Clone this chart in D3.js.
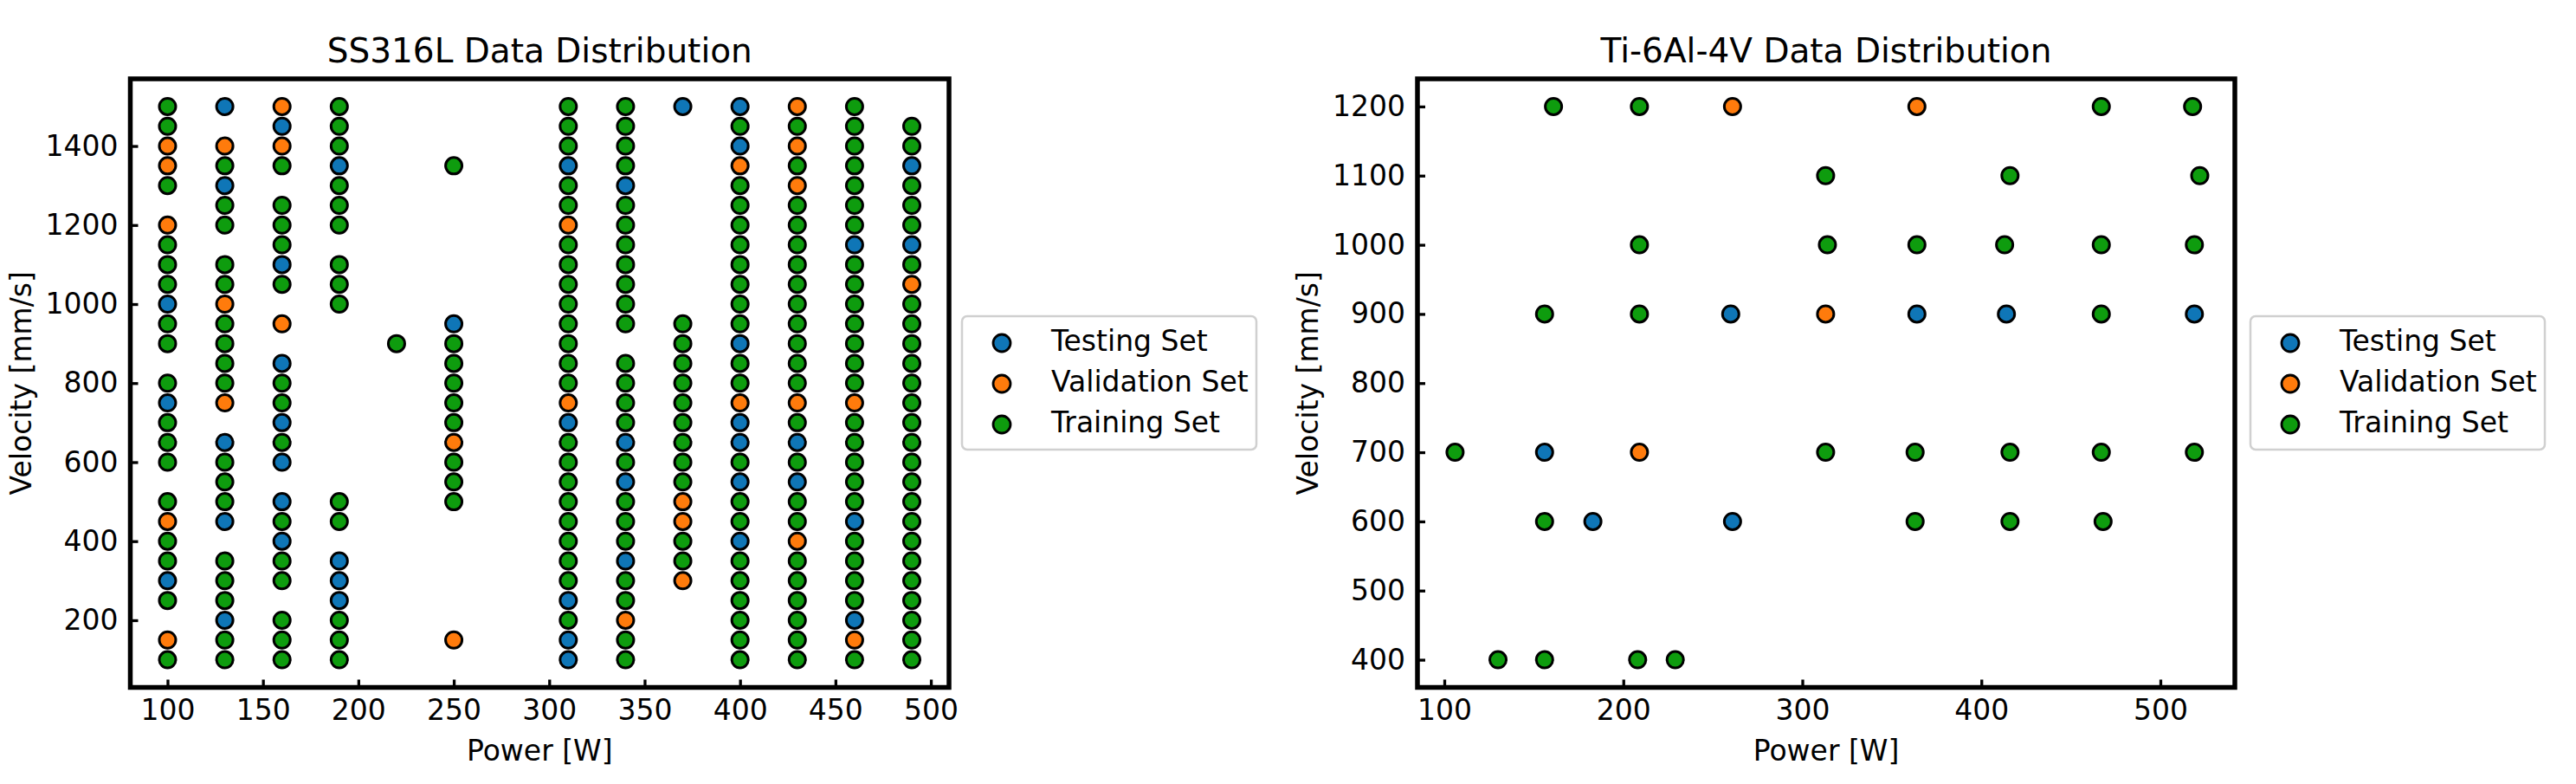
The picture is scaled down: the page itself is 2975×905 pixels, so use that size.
<!DOCTYPE html>
<html>
<head>
<meta charset="utf-8">
<script src="https://cdn.jsdelivr.net/npm/d3@7"></script>
<style>
  body { margin: 0; background: #fff; }
  text { font-family: "DejaVu Sans", sans-serif; }
</style>
</head>
<body>
<div id="chart"></div>
<script>
// set names and colours, in legend order
var setNames = ["Testing Set", "Validation Set", "Training Set"];
var setColors = ["#0f76b7", "#ff7b0c", "#0e9c0e"];

// SS316L: [power, [velocities]] per set
var ssTesting = [
  [100, [1000, 750, 300]],
  [130, [1500, 1300, 650, 450, 200]],
  [160, [1450, 1100, 850, 700, 600, 500, 400]],
  [190, [1350, 350, 300, 250]],
  [250, [950]],
  [310, [1350, 700, 250, 150, 100]],
  [340, [1300, 650, 550, 350]],
  [370, [1500]],
  [400, [1500, 1400, 900, 700, 650, 550, 400]],
  [430, [650, 550]],
  [460, [1150, 450, 200]],
  [490, [1350, 1150]]
];
var ssValidation = [
  [100, [1400, 1350, 1200, 450, 150]],
  [130, [1400, 1000, 750]],
  [160, [1500, 1400, 950]],
  [250, [650, 150]],
  [310, [1200, 750]],
  [340, [200]],
  [370, [500, 450, 300]],
  [400, [1350, 750]],
  [430, [1500, 1400, 1300, 750, 400]],
  [460, [750, 150]],
  [490, [1050]]
];
var ssTraining = [
  [100, [1500, 1450, 1300, 1150, 1100, 1050, 950, 900, 800, 700, 650, 600, 500, 400, 350, 250, 100]],
  [130, [1350, 1250, 1200, 1100, 1050, 950, 900, 850, 800, 600, 550, 500, 350, 300, 250, 150, 100]],
  [160, [1350, 1250, 1200, 1150, 1050, 800, 750, 650, 450, 350, 300, 200, 150, 100]],
  [190, [1500, 1450, 1400, 1300, 1250, 1200, 1100, 1050, 1000, 500, 450, 200, 150, 100]],
  [220, [900]],
  [250, [1350, 900, 850, 800, 750, 700, 600, 550, 500]],
  [310, [1500, 1450, 1400, 1300, 1250, 1150, 1100, 1050, 1000, 950, 900, 850, 800, 650, 600, 550, 500, 450, 400, 350, 300, 200]],
  [340, [1500, 1450, 1400, 1350, 1250, 1200, 1150, 1100, 1050, 1000, 950, 850, 800, 750, 700, 600, 500, 450, 400, 300, 250, 150, 100]],
  [370, [950, 900, 850, 800, 750, 700, 650, 600, 550, 400, 350]],
  [400, [1450, 1300, 1250, 1200, 1150, 1100, 1050, 1000, 950, 850, 800, 600, 500, 450, 350, 300, 250, 200, 150, 100]],
  [430, [1450, 1350, 1250, 1200, 1150, 1100, 1050, 1000, 950, 900, 850, 800, 700, 600, 500, 450, 350, 300, 250, 200, 150, 100]],
  [460, [1500, 1450, 1400, 1350, 1300, 1250, 1200, 1100, 1050, 1000, 950, 900, 850, 800, 700, 650, 600, 550, 500, 400, 350, 300, 250, 100]],
  [490, [1450, 1400, 1300, 1250, 1200, 1100, 1000, 950, 900, 850, 800, 750, 700, 650, 600, 550, 500, 450, 400, 350, 300, 250, 200, 150, 100]]
];
var ssXTicks = [100, 150, 200, 250, 300, 350, 400, 450, 500];
var ssYTicks = [200, 400, 600, 800, 1000, 1200, 1400];

// Ti-6Al-4V: [power, velocity] points per set
var tiTesting = [[260, 900], [364, 900], [414, 900], [519, 900], [156, 700], [183, 600], [261, 600]];
var tiValidation = [[261, 1200], [364, 1200], [313, 900], [209, 700]];
var tiTraining = [
  [161, 1200], [209, 1200], [467, 1200], [518, 1200],
  [313, 1100], [416, 1100], [522, 1100],
  [209, 1000], [314, 1000], [364, 1000], [413, 1000], [467, 1000], [519, 1000],
  [156, 900], [209, 900], [467, 900],
  [106, 700], [313, 700], [363, 700], [416, 700], [467, 700], [519, 700],
  [156, 600], [363, 600], [416, 600], [468, 600],
  [130, 400], [156, 400], [208, 400], [229, 400]
];
var tiXTicks = [100, 200, 300, 400, 500];
var tiYTicks = [400, 500, 600, 700, 800, 900, 1000, 1100, 1200];

function flatten(cols) {
  var out = [];
  cols.forEach(function(c) { c[1].forEach(function(v) { out.push([c[0], v]); }); });
  return out;
}

var svg = d3.select("#chart").append("svg")
  .attr("width", 2975)
  .attr("height", 905);

function drawPanel(p) {
  var x = d3.scaleLinear().domain(p.xDomain).range([p.left, p.right]);
  var y = d3.scaleLinear().domain(p.yDomain).range([p.bottom, p.top]);
  var g = svg.append("g");

  // points, testing first so training sits on top as in the original
  p.sets.forEach(function(pts, i) {
    g.selectAll("circle.s" + i)
      .data(pts)
      .enter().append("circle")
      .attr("class", "s" + i)
      .attr("cx", function(d) { return x(d[0]); })
      .attr("cy", function(d) { return y(d[1]); })
      .attr("r", 9.5)
      .attr("fill", setColors[i])
      .attr("stroke", "#000")
      .attr("stroke-width", 3);
  });

  var xAxis = g.append("g")
    .attr("transform", "translate(0," + p.bottom + ")")
    .call(d3.axisBottom(x).tickValues(p.xTicks).tickFormat(d3.format("d"))
      .tickSize(-9).tickSizeOuter(0).tickPadding(14));
  var yAxis = g.append("g")
    .attr("transform", "translate(" + p.left + ",0)")
    .call(d3.axisLeft(y).tickValues(p.yTicks).tickFormat(d3.format("d"))
      .tickSize(-9).tickSizeOuter(0).tickPadding(14));
  [xAxis, yAxis].forEach(function(a) {
    a.select(".domain").remove();
    a.attr("font-family", null).attr("font-size", null);
    a.selectAll(".tick line").attr("stroke", "#000").attr("stroke-width", 3.3);
    a.selectAll(".tick text").attr("fill", "#000").style("font-size", "33px");
  });

  // frame
  g.append("rect")
    .attr("x", p.left).attr("y", p.top)
    .attr("width", p.right - p.left).attr("height", p.bottom - p.top)
    .attr("fill", "none").attr("stroke", "#000").attr("stroke-width", 5.5);

  var cx = (p.left + p.right) / 2;
  g.append("text")
    .attr("x", cx).attr("y", 72)
    .attr("text-anchor", "middle")
    .style("font-size", "39px")
    .text(p.title);
  g.append("text")
    .attr("x", cx).attr("y", 878)
    .attr("text-anchor", "middle")
    .style("font-size", "33px")
    .text("Power [W]");
  g.append("text")
    .attr("transform", "translate(" + (p.left - 115) + "," + ((p.top + p.bottom) / 2) + ") rotate(-90)")
    .attr("text-anchor", "middle")
    .style("font-size", "33px")
    .text("Velocity [mm/s]");

  // legend
  var lx = p.right + p.legendGap, ly = 365;
  var leg = g.append("g");
  leg.append("rect")
    .attr("x", lx).attr("y", ly)
    .attr("width", 340).attr("height", 154)
    .attr("rx", 6)
    .attr("fill", "#fff").attr("fill-opacity", 0.8)
    .attr("stroke", "#d0d0d0").attr("stroke-width", 2.5);
  setNames.forEach(function(name, i) {
    var ry = ly + 31 + i * 47;
    leg.append("circle")
      .attr("cx", lx + 46).attr("cy", ry)
      .attr("r", 10)
      .attr("fill", setColors[i])
      .attr("stroke", "#000").attr("stroke-width", 2.8);
    leg.append("text")
      .attr("x", lx + 103).attr("y", ry + 9)
      .style("font-size", "33px")
      .text(name);
  });
}

drawPanel({
  title: "SS316L Data Distribution",
  left: 150.5, right: 1096, top: 91, bottom: 793.5,
  xDomain: [80.5, 509.5], yDomain: [30, 1570],
  xTicks: ssXTicks, yTicks: ssYTicks,
  sets: [flatten(ssTesting), flatten(ssValidation), flatten(ssTraining)],
  legendGap: 15
});

drawPanel({
  title: "Ti-6Al-4V Data Distribution",
  left: 1637, right: 2581, top: 91, bottom: 793.5,
  xDomain: [85, 541.6], yDomain: [360, 1240],
  xTicks: tiXTicks, yTicks: tiYTicks,
  sets: [tiTesting, tiValidation, tiTraining],
  legendGap: 18
});
</script>
</body>
</html>
